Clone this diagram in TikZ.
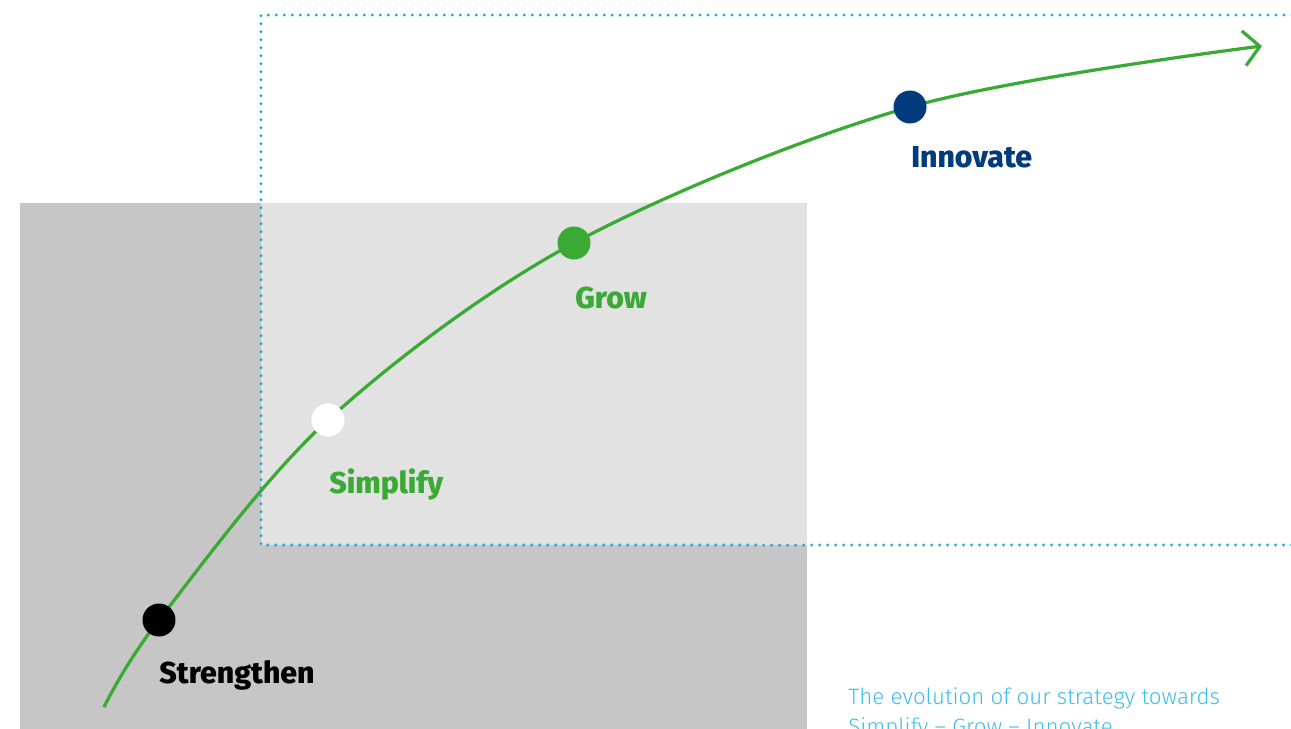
\documentclass[tikz,border=0pt]{standalone}
\usepackage{fontspec}
\setmainfont{Fira Sans}
\newfontfamily\lightfont{Fira Sans Light}
\newfontfamily\heavyfont{Fira Sans ExtraBold}
\usetikzlibrary{arrows.meta}

\definecolor{hpgreen}{HTML}{3AAA35}
\definecolor{hpnavy}{HTML}{003C7D}
\definecolor{hpblue}{HTML}{3DBDEB}
\definecolor{dotblue}{HTML}{1BA9E1}
\definecolor{darkbox}{HTML}{C6C6C6}
\definecolor{lightbox}{HTML}{E2E2E2}

\begin{document}
\begin{tikzpicture}[x=0.02cm, y=-0.02cm,
	dot/.style={circle, inner sep=0pt, minimum size=0.64cm},
	lbl/.style={anchor=west, inner sep=0pt, font=\heavyfont\fontsize{17.2}{20}\selectfont}]
	\clip (0,0) rectangle (1291,728);
	\fill[darkbox] (20,203) rectangle (807,740);
	\fill[lightbox] (261,203) rectangle (807,545);
	\draw[dotblue, line width=0.065cm, line cap=round, dash pattern=on 0pt off 0.16cm] (1300,15) -- (261,15) -- (261,545) -- (1300,545);
	\coordinate (start) at (104,707);
	\coordinate (tip) at (1262,46);
	\node[dot] (str) at (159,620) {};
	\node[dot] (sim) at (328,420) {};
	\node[dot] (grow) at (574,243) {};
	\node[dot] (inn) at (910,107) {};
	\draw[hpgreen, line width=0.065cm, -{Straight Barb[length=0.32cm, width=0.7cm, line width=0.065cm]}]
		plot[smooth, tension=0.55] coordinates {(start) (str) (sim) (grow) (inn) (tip)};
	\fill[black] (str) circle (0.33cm);
	\fill[white] (sim) circle (0.33cm);
	\fill[hpgreen] (grow) circle (0.33cm);
	\fill[hpnavy] (inn) circle (0.33cm);
	\node[lbl] (strL) at (159,675) {Strengthen};
	\node[lbl, text=hpgreen] (simL) at (329,484) {Simplify};
	\node[lbl, text=hpgreen] (growL) at (575,298) {Grow};
	\node[lbl, text=hpnavy] (innL) at (911,157) {Innovate};
	\node[anchor=north west, inner sep=0pt, align=left, text=hpblue,
		font=\lightfont\fontsize{12.7}{17}\selectfont] (cap) at (848,687)
		{The evolution of our strategy towards\\Simplify – Grow – Innovate};
\end{tikzpicture}
\end{document}
